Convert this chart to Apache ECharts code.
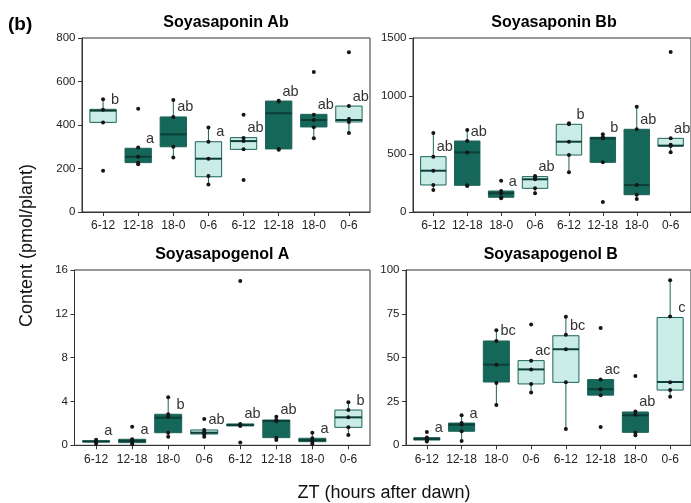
<!DOCTYPE html>
<html><head><meta charset="utf-8">
<script src="https://cdn.jsdelivr.net/npm/echarts@6/dist/echarts.min.js"></script>
<style>html,body{margin:0;padding:0;background:#fff}#c{width:691px;height:503px}</style>
</head><body><div id="c"></div>
<script>
// ---- data ----
const categories = ['6-12','12-18','18-0','0-6','6-12','12-18','18-0','0-6'];
const period = ['light','dark','dark','light','light','dark','dark','light'];
const panelTitles = ['Soyasaponin Ab','Soyasaponin Bb','Soyasapogenol A','Soyasapogenol B'];

// y tick labels of each panel
const abTicks = [0,200,400,600,800];
const bbTicks = [0,500,1000,1500];
const saTicks = [0,4,8,12,16];
const sbTicks = [0,25,50,75,100];

// box statistics: [lower whisker, Q1, median, Q3, upper whisker]
const abBoxes = [
  [412,412,466,472,518],[220,227,254,293,296],[251,300,357,437,515],[127,162,245,323,389],
  [288,288,326,342,342],[288,290,454,510,512],[339,391,423,449,449],[363,414,423,487,487]
];
const bbBoxes = [
  [190,233,356,477,681],[225,230,514,612,707],[118,127,161,181,181],[161,204,282,305,310],
  [342,491,606,756,765],[428,428,635,644,670],[112,149,233,713,908],[515,569,572,635,635]
];
const saBoxes = [
  [0.15,0.30,0.35,0.42,0.50],[0.10,0.24,0.40,0.55,0.60],[0.78,1.15,2.52,2.83,4.38],[0.78,1.03,1.15,1.40,1.45],
  [1.77,1.77,1.85,1.95,1.95],[0.48,0.70,2.22,2.31,2.61],[0.12,0.33,0.46,0.64,1.15],[0.94,1.64,2.55,3.22,3.92]
];
const sbBoxes = [
  [2.1,3.0,3.6,4.4,4.4],[2.5,8.0,11.8,12.7,17.1],[23.0,36.1,46.0,59.5,65.7],[30.1,35.0,43.3,48.3,48.3],
  [9.3,35.9,54.8,62.5,73.4],[28.6,28.6,32.0,37.5,37.5],[5.7,7.4,17.1,19.0,19.3],[27.7,31.5,36.1,72.9,94.1]
];

// individual measurements (incl. outliers)
const abPoints = [
  [518,470,412,190],[475,296,254,227,220],[515,437,300,251],[389,323,245,166,127],
  [447,340,326,288,147],[512,508,290,286],[644,447,423,390,339],[734,487,428,414,363]
];
const bbPoints = [
  [681,477,356,233,190],[707,612,514,230,225],[270,181,161,127,118],[310,300,282,204,161],
  [765,756,606,491,342],[670,644,635,428,86],[908,713,233,149,112],[1379,635,580,569,515]
];
const saPoints = [
  [0.50,0.38,0.30,0.15],[1.70,0.55,0.40,0.30,0.10],[4.38,2.83,2.60,1.15,0.78],[2.40,1.40,1.20,1.00,0.78],
  [15.0,1.95,1.85,1.77,0.25],[2.61,2.30,2.20,0.70,0.48],[1.15,0.64,0.46,0.33,0.12],[3.92,3.22,2.55,1.64,0.94]
];
const sbPoints = [
  [7.6,4.4,3.6,3.0,2.1],[17.1,12.7,11.8,8.0,2.5],[65.7,59.5,46.0,35.5,23.0],[68.9,48.3,43.3,35.0,30.1],
  [73.4,63.0,54.8,36.0,9.3],[66.9,37.5,32.0,28.6,10.5],[39.5,19.3,17.5,7.3,5.7],[94.1,73.5,36.0,31.5,27.7]
];

// significance letters
const abLetters = ['b','a','ab','a','ab','ab','ab','ab'];
const bbLetters = ['ab','ab','a','ab','b','b','ab','ab'];
const saLetters = ['a','a','b','ab','ab','ab','a','b'];
const sbLetters = ['a','a','bc','ac','bc','ac','ab','c'];

// ---- layout & style ----
const FONT = "'Liberation Sans', Arial, Helvetica, sans-serif";
const lightFill = '#c9ece6', darkFill = '#15675a', edge = '#1b6358', medianCol = '#0b3f37';
const axisCol = '#333';
const grids = [
  {left:82,   top:38,  width:288,   height:174},
  {left:413,  top:38,  width:282,   height:174},
  {left:74.5, top:270, width:295.5, height:175.3},
  {left:406,  top:270, width:289.5, height:175.3}
];
const panels = [
  {ticks:abTicks, boxes:abBoxes, points:abPoints, letters:abLetters},
  {ticks:bbTicks, boxes:bbBoxes, points:bbPoints, letters:bbLetters},
  {ticks:saTicks, boxes:saBoxes, points:saPoints, letters:saLetters},
  {ticks:sbTicks, boxes:sbBoxes, points:sbPoints, letters:sbLetters}
];
const catPos = categories.map((c,i)=>i+1);
const HALF = 0.375;

const option = {
  animation:false,
  backgroundColor:'#fff',
  grid: grids.map(g=>Object.assign({show:true, borderColor:axisCol, borderWidth:1, backgroundColor:'transparent'}, g)),
  xAxis: grids.map((g,i)=>({
    type:'value', gridIndex:i, min:0.4, max:8.6,
    splitLine:{show:false},
    axisLine:{show:true, onZero:false, lineStyle:{color:axisCol, width:1}},
    axisTick:{show:true, customValues:catPos, length:4, lineStyle:{color:axisCol}},
    axisLabel:{show:true, customValues:catPos, margin:8, fontSize:12, color:'#222', fontFamily:FONT,
      formatter:v=>categories[Math.round(v)-1] || ''}
  })),
  yAxis: panels.map((p,i)=>({
    type:'value', gridIndex:i, min:p.ticks[0], max:p.ticks[p.ticks.length-1],
    interval:p.ticks[1]-p.ticks[0],
    splitLine:{show:false},
    axisLine:{show:true, onZero:false, lineStyle:{color:axisCol, width:1}},
    axisTick:{show:true, length:4, lineStyle:{color:axisCol}},
    axisLabel:{margin:6.5, fontSize:11.5, color:'#222', fontFamily:FONT, formatter:v=>String(v)}
  })),
  series: [],
  graphic: []
};

panels.forEach((p,pi)=>{
  option.series.push({
    type:'custom', name:panelTitles[pi]+' boxes', xAxisIndex:pi, yAxisIndex:pi,
    coordinateSystem:'cartesian2d', clip:false,
    encode:{x:0, y:[1,2,3,4,5]},
    data: p.boxes.map((b,i)=>[i+1, b[0], b[1], b[2], b[3], b[4], period[i]==='dark'?1:0]),
    renderItem:(params, api)=>{
      const x = api.value(0);
      const lo = api.coord([x, api.value(1)]);
      const q1 = api.coord([x, api.value(2)]);
      const md = api.coord([x, api.value(3)]);
      const q3 = api.coord([x, api.value(4)]);
      const hi = api.coord([x, api.value(5)]);
      const L = api.coord([x-HALF, api.value(3)])[0];
      const R = api.coord([x+HALF, api.value(3)])[0];
      const dark = api.value(6) === 1;
      const cx = lo[0];
      const lx = api.coord([x+0.34, api.value(4)])[0];
      return {type:'group', children:[
        {type:'line', shape:{x1:cx,y1:hi[1],x2:cx,y2:q3[1]}, style:{stroke:edge, lineWidth:1}},
        {type:'line', shape:{x1:cx,y1:q1[1],x2:cx,y2:lo[1]}, style:{stroke:edge, lineWidth:1}},
        {type:'rect', shape:{x:L, y:q3[1], width:R-L, height:Math.max(q1[1]-q3[1],0.5)},
          style:{fill: dark?darkFill:lightFill, stroke:edge, lineWidth:1}},
        {type:'line', shape:{x1:L,y1:md[1],x2:R,y2:md[1]}, style:{stroke:medianCol, lineWidth:2}},
        {type:'text', style:{text:p.letters[params.dataIndex], x:lx, y:q3[1]-9.5,
          align:'center', verticalAlign:'middle', fill:'#333', fontSize:14.5, fontFamily:FONT}}
      ]};
    }
  });
  const pts = [];
  p.points.forEach((arr,i)=>arr.forEach(v=>pts.push([i+1, v])));
  option.series.push({
    type:'scatter', name:panelTitles[pi]+' points', xAxisIndex:pi, yAxisIndex:pi,
    data:pts, symbolSize:4, itemStyle:{color:'#151515', opacity:1}, z:3
  });
  const g = grids[pi];
  option.graphic.push({type:'text', x:g.left+g.width/2, y:(pi<2?22.5:254.7),
    style:{text:panelTitles[pi], align:'center', verticalAlign:'middle', fill:'#000',
      font:"bold 16px "+FONT}});
});

option.graphic.push(
  {type:'text', x:8, y:25, style:{text:'(b)', align:'left', verticalAlign:'middle', fill:'#000', font:"bold 19px "+FONT}},
  {type:'text', x:27, y:245.5, rotation:Math.PI/2, style:{text:'Content (pmol/plant)', align:'center', verticalAlign:'middle', fill:'#111', font:"18px "+FONT}},
  {type:'text', x:384, y:493, style:{text:'ZT (hours after dawn)', align:'center', verticalAlign:'middle', fill:'#111', font:"18px "+FONT}}
);

const chart = echarts.init(document.getElementById('c'), null, {renderer:'canvas'});
chart.setOption(option);
</script>
</body></html>
